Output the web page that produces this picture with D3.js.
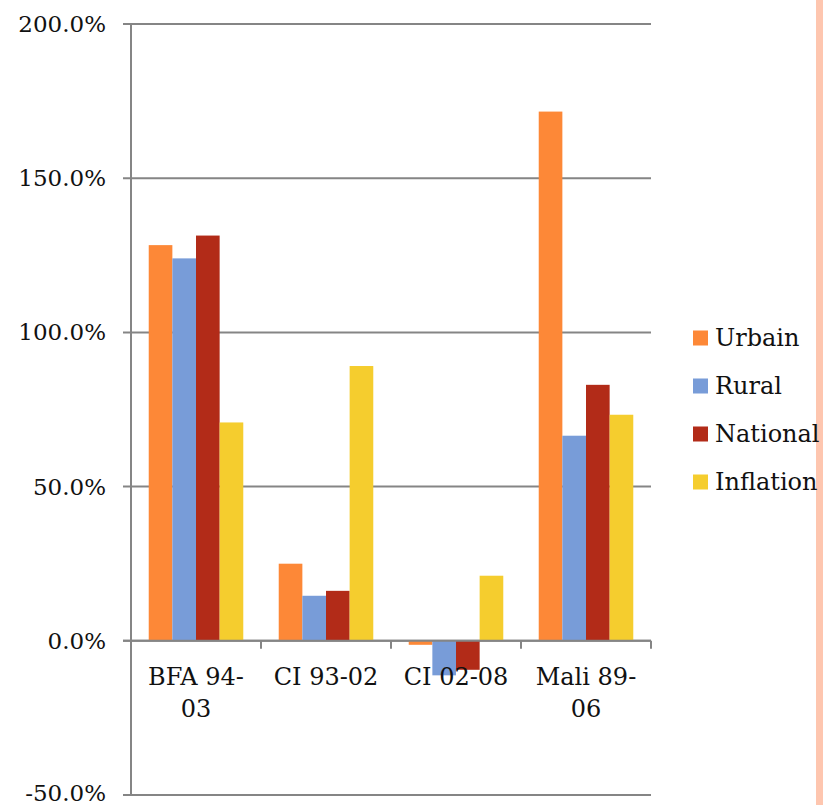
<!DOCTYPE html>
<html><head><meta charset="utf-8">
<script src="https://cdn.jsdelivr.net/npm/d3@7"></script>
<style>html,body{margin:0;padding:0;background:#fff;}svg{display:block;}</style>
</head><body>
<script>
const categories = [["BFA 94-","03"],["CI 93-02"],["CI 02-08"],["Mali 89-","06"]];
const seriesNames = ["Urbain","Rural","National","Inflation"];
const colors = ["#FD8837","#789CD8","#B22B18","#F5CD2E"];
const urbain = [128.3, 25.0, -1.3, 171.6];
const rural = [124.0, 14.6, -11.2, 66.5];
const national = [131.4, 16.2, -9.4, 83.0];
const inflation = [70.8, 89.1, 21.1, 73.3];
const yTicks = [-50, 0, 50, 100, 150, 200];
const values = [urbain, rural, national, inflation];

const W = 823, H = 805;
const svg = d3.select("body").append("svg").attr("width", W).attr("height", H);
const font = "'DejaVu Serif', serif";

svg.append("rect").attr("x", 816).attr("y", 0).attr("width", 7).attr("height", H).attr("fill", "#FEC6AF");

const y = d3.scaleLinear().domain([-50, 200]).range([795, 24]);
const x0 = d3.scaleBand().domain(d3.range(4)).range([131, 651]).paddingInner(0).paddingOuter(0);
const bw = x0.bandwidth() / 5.5;

// gridlines
svg.append("g").selectAll("line").data(yTicks).join("line")
  .attr("x1", 123).attr("x2", 651).attr("y1", d => y(d)).attr("y2", d => y(d))
  .attr("stroke", "#858585").attr("stroke-width", 2);

// bars
const g = svg.append("g");
seriesNames.forEach((s, si) => {
  g.selectAll(null).data(values[si]).join("rect")
    .attr("x", (d, i) => x0(i) + bw * 0.75 + si * bw)
    .attr("width", bw)
    .attr("y", d => y(Math.max(0, d)))
    .attr("height", d => Math.abs(y(d) - y(0)))
    .attr("fill", colors[si]);
});

// zero line + category ticks
svg.append("line").attr("x1", 123).attr("x2", 651).attr("y1", y(0)).attr("y2", y(0))
  .attr("stroke", "#858585").attr("stroke-width", 2);
svg.append("g").selectAll("line").data(d3.range(1, 5)).join("line")
  .attr("x1", i => x0.step() * i + 131).attr("x2", i => x0.step() * i + 131)
  .attr("y1", y(0)).attr("y2", y(0) + 8)
  .attr("stroke", "#858585").attr("stroke-width", 2);
// y axis line
svg.append("line").attr("x1", 131).attr("x2", 131).attr("y1", 24).attr("y2", 796)
  .attr("stroke", "#858585").attr("stroke-width", 2);

// y tick labels
const fmt = d => d3.format(".1f")(d).replace("\u2212", "-") + "%";
svg.append("g").selectAll("text").data(yTicks).join("text")
  .attr("x", 106).attr("y", d => d === -50 ? y(d) - 2 : y(d)).attr("dy", "0.35em")
  .attr("text-anchor", "end").attr("font-family", font).attr("font-size", 23)
  .attr("fill", "#111").text(fmt);

// category labels
categories.forEach((lines, i) => {
  const t = svg.append("text").attr("text-anchor", "middle")
    .attr("font-family", font).attr("font-size", 24).attr("fill", "#111");
  lines.forEach((ln, j) => {
    t.append("tspan").attr("x", x0(i) + x0.bandwidth() / 2).attr("y", 685 + j * 32).text(ln);
  });
});

// legend
const lg = svg.append("g");
seriesNames.forEach((s, i) => {
  const cy = 338 + i * 48;
  lg.append("rect").attr("x", 693).attr("y", cy - 7.5).attr("width", 15).attr("height", 15).attr("fill", colors[i]);
  lg.append("text").attr("x", 715).attr("y", cy).attr("dy", "0.35em")
    .attr("font-family", font).attr("font-size", 24).attr("fill", "#111").text(s);
});
</script>
</body></html>
